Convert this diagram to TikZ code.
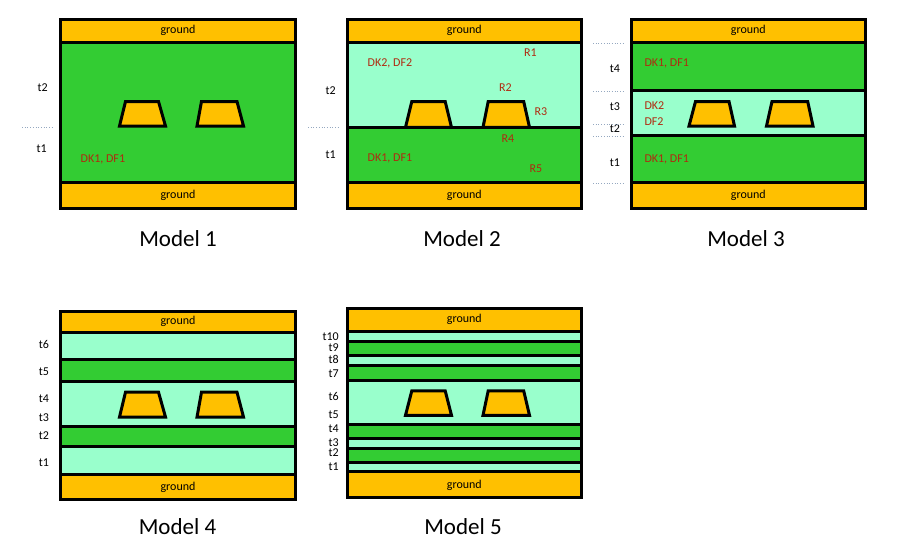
\documentclass[tikz,border=0pt]{standalone}
\usepackage{fontspec}
\setmainfont{Carlito}
\definecolor{gnd}{HTML}{FFC000}
\definecolor{grn}{HTML}{33CC33}
\definecolor{cyn}{HTML}{99FFCC}
\definecolor{lbl}{HTML}{B02A10}
\definecolor{dotc}{HTML}{95A8C0}
\newcommand\mytrap[6]{\draw[trapz] (#1,#6)--(#2,#5)--(#3,#5)--(#4,#6)--cycle;}
\begin{document}
\begin{tikzpicture}[x=1pt,y=-1pt,
  layer/.style={line width=3pt},
  small/.style={font=\fontsize{12}{14}\selectfont, inner sep=0pt, text height=8pt, text depth=2.6pt},
  capt/.style={font=\fontsize{23}{27}\selectfont, inner sep=0pt},
  dk/.style={small, text=lbl, anchor=west},
  guide/.style={draw=dotc, line width=0.7pt, dotted},
  trapz/.style={fill=gnd, draw=black, line width=3pt, line join=miter}]
\useasboundingbox (0,0) rectangle (899,557);
\fill[white] (0,0) rectangle (899,557);

% ---------- Model 1 ----------
\foreach \ya/\yb/\c in {18.3/42.3/gnd, 42.3/182.3/grn, 182.3/210/gnd}
  \fill[\c] (59.3,\ya) rectangle (296.7,\yb);
\foreach \y in {42.3,182.3} \draw[layer] (59.3,\y) -- (296.7,\y);
\draw[layer] (60.8,19.8) rectangle (295.2,208.5);
\mytrap{119.5}{125.5}{158.5}{165.5}{101.5}{126}
\mytrap{197}{201.5}{237}{243.5}{101.5}{126}
\node[small] (m1g1) at (178,30.3) {ground};
\node[small] (m1g2) at (178,196) {ground};
\node[dk] (m1d1) at (80.5,160) {DK1, DF1};
\node[small] (m1t2) at (42.7,88.3) {t2};
\node[small] (m1t1) at (41.7,150) {t1};
\coordinate (m1a) at (22,127.7); \coordinate (m1b) at (53,127.7);
\draw[guide] (m1a) -- (m1b);
\node[capt] (cap1) at (178,239) {Model 1};

% ---------- Model 2 ----------
\foreach \ya/\yb/\c in {18.3/42.3/gnd, 42.3/127.3/cyn, 127.3/182.3/grn, 182.3/210/gnd}
  \fill[\c] (346,\ya) rectangle (582.7,\yb);
\foreach \y in {42.3,127.3,182.3} \draw[layer] (346,\y) -- (582.7,\y);
\draw[layer] (347.5,19.8) rectangle (581.2,208.5);
\mytrap{405.5}{411.8}{445.2}{451.5}{101.5}{127.3}
\mytrap{483}{488.2}{523.7}{529.5}{101.5}{127.3}
\node[small] (m2g1) at (464.3,30.3) {ground};
\node[small] (m2g2) at (464.3,196) {ground};
\node[dk] (m2d2) at (367.5,63.3) {DK2, DF2};
\node[dk] (m2d1) at (367.5,159) {DK1, DF1};
\node[dk] (r1) at (524,53.3) {R1};
\node[dk] (r2) at (499,89) {R2};
\node[dk] (r3) at (534.3,112.3) {R3};
\node[dk] (r4) at (501.5,139.3) {R4};
\node[dk] (r5) at (529.3,169.3) {R5};
\node[small] (m2t2) at (330.7,91.7) {t2};
\node[small] (m2t1) at (330.7,155.7) {t1};
\coordinate (m2a) at (308,127.3); \coordinate (m2b) at (340,127.3);
\draw[guide] (m2a) -- (m2b);
\node[capt] (cap2) at (462,238.5) {Model 2};

% ---------- Model 3 ----------
\foreach \ya/\yb/\c in {18.3/42.3/gnd, 42.3/90/grn, 90/135/cyn, 135/182.3/grn, 182.3/210/gnd}
  \fill[\c] (630,\ya) rectangle (866.7,\yb);
\foreach \y in {42.3,90,135,182.3} \draw[layer] (630,\y) -- (866.7,\y);
\draw[layer] (631.5,19.8) rectangle (865.2,208.5);
\mytrap{689}{695.5}{729}{734.5}{101.5}{126}
\mytrap{766.5}{772}{807.7}{813}{101.5}{126}
\node[small] (m3g1) at (748.3,30.3) {ground};
\node[small] (m3g2) at (748.3,196) {ground};
\node[dk] (m3d1) at (644.3,64) {DK1, DF1};
\node[dk] (m3k2) at (644.3,106.7) {DK2};
\node[dk] (m3f2) at (644.3,122.3) {DF2};
\node[dk] (m3d0) at (644.3,159.3) {DK1, DF1};
\node[small] (m3t4) at (615,69.3) {t4};
\node[small] (m3t3) at (615,107.3) {t3};
\node[small] (m3t2) at (615,130) {t2};
\node[small] (m3t1) at (615,163.3) {t1};
\foreach \y [count=\i] in {43.3,91,124.3,136.7,183.3} {
  \coordinate (m3a\i) at (593,\y); \coordinate (m3b\i) at (625,\y);
  \draw[guide] (m3a\i) -- (m3b\i);
}
\node[capt] (cap3) at (746,238.5) {Model 3};

% ---------- Model 4 ----------
\foreach \ya/\yb/\c in {310/332.7/gnd, 332.7/359.3/cyn, 359.3/381/grn, 381/426/cyn, 426/446.7/grn, 446.7/474.3/cyn, 474.3/501/gnd}
  \fill[\c] (59.3,\ya) rectangle (296.7,\yb);
\foreach \y in {332.7,359.3,381,426,446.7,474.3} \draw[layer] (59.3,\y) -- (296.7,\y);
\draw[layer] (60.8,311.5) rectangle (295.2,499.5);
\mytrap{119.5}{125.5}{158.5}{165.5}{392.2}{417}
\mytrap{197}{201.5}{237}{243.5}{392.2}{417}
\node[small] (m4g1) at (178,321.5) {ground};
\node[small] (m4g2) at (178,487.5) {ground};
\node[small] (m4t6) at (44,346) {t6};
\node[small] (m4t5) at (44,372.7) {t5};
\node[small] (m4t4) at (44,399.3) {t4};
\node[small] (m4t3) at (44,419) {t3};
\node[small] (m4t2) at (44,436.7) {t2};
\node[small] (m4t1) at (44,463.3) {t1};
\node[capt] (cap4) at (177.5,527) {Model 4};

% ---------- Model 5 ----------
\foreach \ya/\yb/\c in {307.3/331/gnd, 331/341/cyn, 341/355/grn, 355/365/cyn, 365/380/grn, 380/424/cyn, 424/438.3/grn, 438.3/448.3/cyn, 448.3/462.7/grn, 462.7/471.7/cyn, 471.7/499.3/gnd}
  \fill[\c] (346,\ya) rectangle (582.7,\yb);
\foreach \y in {331,341,355,365,380,424,438.3,448.3,462.7,471.7} \draw[layer] (346,\y) -- (582.7,\y);
\draw[layer] (347.5,308.8) rectangle (581.2,497.8);
\mytrap{405.5}{411.8}{445.2}{451.5}{390.8}{415.3}
\mytrap{483}{488.2}{523.7}{529.5}{390.8}{415.3}
\node[small] (m5g1) at (464.3,319.5) {ground};
\node[small] (m5g2) at (464.3,485.5) {ground};
\foreach \n/\y in {10/337.3, 9/349, 8/361, 7/375, 6/397.3, 5/415.7, 4/430, 3/443.3, 2/454, 1/467.7}
  \node[small, anchor=east] (m5t\n) at (339,\y) {t\n};
\node[capt] (cap5) at (463,527) {Model 5};
\end{tikzpicture}
\end{document}
